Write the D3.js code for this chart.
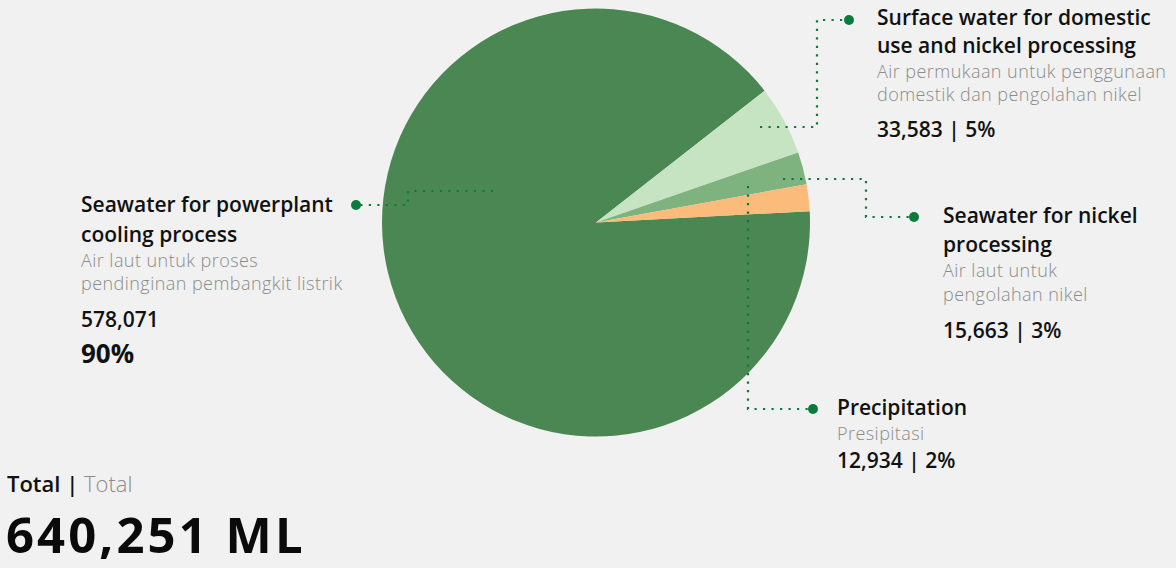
<!DOCTYPE html>
<html>
<head>
<meta charset="utf-8">
<script src="https://cdn.jsdelivr.net/npm/d3@7"></script>
<style>
  html, body { margin: 0; padding: 0; background: #f0f1f0; }
  svg { display: block; font-family: "Open Sans", "Noto Sans", sans-serif; }
</style>
</head>
<body>
<svg id="chart" width="1176" height="568"></svg>
<script>
// ---- data ----
const categories = [
  "Seawater for powerplant cooling process",
  "Surface water for domestic use and nickel processing",
  "Seawater for nickel processing",
  "Precipitation"
];
const titleLines = [
  ["Seawater for powerplant", "cooling process"],
  ["Surface water for domestic", "use and nickel processing"],
  ["Seawater for nickel", "processing"],
  ["Precipitation"]
];
const subtitleLines = [
  ["Air laut untuk proses", "pendinginan pembangkit listrik"],
  ["Air permukaan untuk penggunaan", "domestik dan pengolahan nikel"],
  ["Air laut untuk", "pengolahan nikel"],
  ["Presipitasi"]
];
const values = [578071, 33583, 15663, 12934];
const percentLabels = ["90%", "5%", "3%", "2%"];
const totalValue = 640251;
const totalUnit = "ML";
const colors = ["#4b8752", "#c7e4c2", "#7eb27f", "#fbbb7a"];

// ---- layout ----
const W = 1176, H = 568;
const cx = 596, cy = 222.5, R = 214;
const dotColor = "#0b7a3e";
const svg = d3.select("#chart");

const total = d3.sum(values);
const startDeg = 52 - (values[0] / total) * 360;
const pie = d3.pie().sort(null).value(d => d)
  .startAngle(startDeg * Math.PI / 180)
  .endAngle(startDeg * Math.PI / 180 + 2 * Math.PI);
const arc = d3.arc().innerRadius(0).outerRadius(R);

svg.append("g").attr("transform", `translate(${cx},${cy})`)
  .selectAll("path").data(pie(values)).join("path")
  .attr("d", arc).attr("fill", (d, i) => colors[i]);

// leader lines (annotation layout)
const leaders = [
  { pts: [[493, 191], [408, 191], [408, 205], [356, 205]], dot: [356, 205] },
  { pts: [[760, 127], [817, 127], [817, 20], [849, 20]], dot: [849, 20] },
  { pts: [[783, 179], [866, 179], [866, 217], [914, 217]], dot: [914, 217] },
  { pts: [[748, 186], [748, 409], [813, 409]], dot: [813, 409] }
];
const lg = svg.append("g");
leaders.forEach(l => {
  lg.append("path")
    .attr("d", d3.line()(l.pts))
    .attr("fill", "none").attr("stroke", dotColor)
    .attr("stroke-width", 2.2).attr("stroke-dasharray", "2.2 6.3");
  lg.append("circle").attr("cx", l.dot[0]).attr("cy", l.dot[1]).attr("r", 5)
    .attr("fill", dotColor);
});

// labels
const labelPos = [
  { x: 81, title: [212, 242], sub: [267, 290] },
  { x: 877, title: [25, 53], sub: [78, 101], val: 137 },
  { x: 943, title: [223, 252], sub: [277, 301], val: 338 },
  { x: 837, title: [415], sub: [440], val: 468 }
];
const fmt = d3.format(",");
const tg = svg.append("g");
labelPos.forEach((p, i) => {
  titleLines[i].forEach((t, j) => {
    tg.append("text").attr("x", p.x).attr("y", p.title[j])
      .attr("font-size", 21).attr("font-weight", 600).attr("fill", "#111")
      .text(t);
  });
  subtitleLines[i].forEach((t, j) => {
    tg.append("text").attr("x", p.x).attr("y", p.sub[j])
      .attr("font-size", 18).attr("font-weight", 300).attr("fill", "#8c8c8c")
      .attr("letter-spacing", 0.45)
      .text(t);
  });
  if (i === 0) {
    tg.append("text").attr("x", p.x).attr("y", 327)
      .attr("font-size", 21).attr("font-weight", 600).attr("fill", "#111")
      .text(fmt(values[i]));
    tg.append("text").attr("x", p.x).attr("y", 363)
      .attr("font-size", 26).attr("font-weight", 700).attr("fill", "#111")
      .text(percentLabels[i]);
  } else {
    tg.append("text").attr("x", p.x).attr("y", p.val)
      .attr("font-size", 21).attr("font-weight", 600).attr("fill", "#111")
      .text(fmt(values[i]) + " | " + percentLabels[i]);
  }
});

// total
const tt = svg.append("text").attr("x", 7).attr("y", 492).attr("font-size", 22);
tt.append("tspan").attr("font-weight", 600).attr("fill", "#111").text("Total | ");
tt.append("tspan").attr("font-weight", 300).attr("fill", "#8c8c8c").text("Total");
svg.append("text").attr("x", 6).attr("y", 553)
  .attr("font-size", 49).attr("font-weight", 700).attr("fill", "#0a0a0a")
  .attr("letter-spacing", 3.1)
  .text(fmt(totalValue) + " " + totalUnit);
</script>
</body>
</html>
